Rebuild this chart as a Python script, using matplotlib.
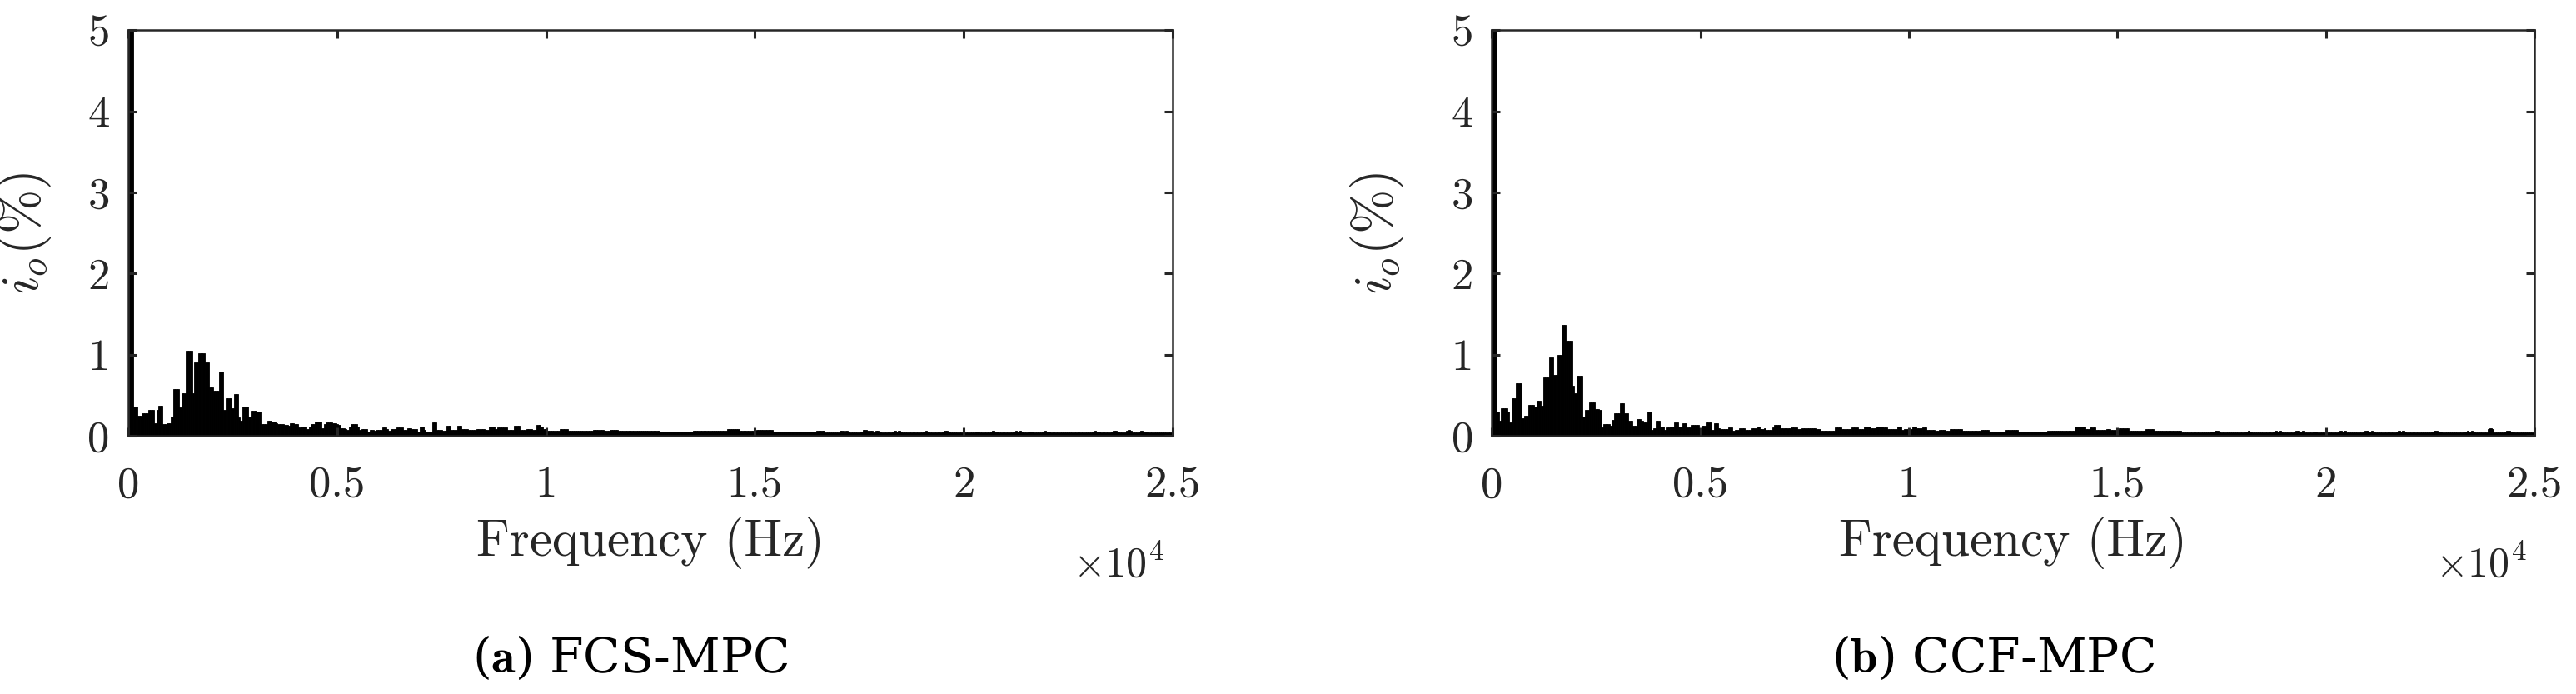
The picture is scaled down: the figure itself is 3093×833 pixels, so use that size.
import numpy as np
import matplotlib.pyplot as plt

plt.rcParams['mathtext.fontset'] = 'cm'
plt.rcParams['axes.unicode_minus'] = False

# harmonic spectrum, one value per 50 Hz bin (percent of fundamental)
bin_hz = 50

fcs_mpc = [
    100, 5.5, 0.36, 0.36, 0.25, 0.25, 0.28, 0.28, 0.28, 0.32,
    0.32, 0.32, 0.16, 0.32, 0.37, 0.37, 0.14, 0.14, 0.16, 0.16,
    0.24, 0.58, 0.58, 0.58, 0.35, 0.53, 0.53, 1.05, 1.05, 1.05,
    0.53, 0.90, 0.90, 1.02, 1.02, 1.02, 0.90, 0.90, 0.60, 0.60,
    0.56, 0.56, 0.56, 0.79, 0.79, 0.32, 0.46, 0.46, 0.46, 0.34,
    0.51, 0.51, 0.23, 0.19, 0.36, 0.36, 0.36, 0.24, 0.31, 0.31,
    0.31, 0.30, 0.30, 0.15, 0.15, 0.15, 0.19, 0.19, 0.18, 0.18,
    0.16, 0.14, 0.14, 0.14, 0.13, 0.13, 0.125, 0.156, 0.156, 0.146,
    0.146, 0.105, 0.115, 0.115, 0.115, 0.085, 0.115, 0.146, 0.146, 0.176,
    0.176, 0.176, 0.095, 0.146, 0.166, 0.166, 0.166, 0.156, 0.156, 0.14,
    0.135, 0.095, 0.095, 0.085, 0.075, 0.115, 0.146, 0.146, 0.146, 0.115,
    0.075, 0.085, 0.085, 0.085, 0.054, 0.075, 0.075, 0.064, 0.075, 0.075,
    0.075, 0.105, 0.105, 0.085, 0.064, 0.085, 0.085, 0.085, 0.105, 0.105,
    0.105, 0.075, 0.075, 0.095, 0.095, 0.085, 0.085, 0.085, 0.054, 0.115,
    0.115, 0.075, 0.054, 0.054, 0.054, 0.166, 0.166, 0.075, 0.075, 0.075,
    0.064, 0.064, 0.125, 0.125, 0.075, 0.075, 0.075, 0.125, 0.125, 0.085,
    0.085, 0.085, 0.075, 0.075, 0.075, 0.075, 0.085, 0.085, 0.085, 0.085,
    0.075, 0.075, 0.11, 0.11, 0.11, 0.085, 0.10, 0.10, 0.10, 0.10,
    0.10, 0.075, 0.075, 0.075, 0.12, 0.12, 0.12, 0.075, 0.075, 0.075,
    0.085, 0.085, 0.085, 0.075, 0.075, 0.13, 0.13, 0.11, 0.085, 0.085,
    0.064, 0.064, 0.064, 0.064, 0.064, 0.064, 0.085, 0.085, 0.085, 0.085,
    0.064, 0.064, 0.058, 0.064, 0.064, 0.058, 0.064, 0.064, 0.064, 0.058,
    0.064, 0.064, 0.075, 0.075, 0.075, 0.075, 0.075, 0.064, 0.064, 0.064,
    0.075, 0.075, 0.075, 0.075, 0.058, 0.058, 0.058, 0.058, 0.058, 0.058,
    0.058, 0.058, 0.058, 0.058, 0.058, 0.058, 0.064, 0.064, 0.064, 0.064,
    0.064, 0.064, 0.064, 0.064, 0.05, 0.05, 0.05, 0.05, 0.05, 0.05,
    0.05, 0.05, 0.05, 0.05, 0.05, 0.05, 0.05, 0.05, 0.05, 0.05,
    0.068, 0.068, 0.068, 0.068, 0.068, 0.068, 0.068, 0.068, 0.068, 0.068,
    0.068, 0.064, 0.064, 0.064, 0.064, 0.064, 0.085, 0.085, 0.085, 0.085,
    0.085, 0.085, 0.068, 0.068, 0.068, 0.068, 0.068, 0.068, 0.068, 0.068,
    0.075, 0.075, 0.075, 0.075, 0.075, 0.075, 0.075, 0.075, 0.055, 0.055,
    0.055, 0.055, 0.055, 0.055, 0.055, 0.055, 0.055, 0.055, 0.055, 0.055,
    0.055, 0.055, 0.055, 0.055, 0.055, 0.055, 0.055, 0.05, 0.05, 0.06,
    0.065, 0.065, 0.06, 0.045, 0.04, 0.04, 0.045, 0.04, 0.04, 0.045,
    0.06, 0.06, 0.055, 0.06, 0.05, 0.045, 0.04, 0.045, 0.04, 0.045,
    0.05, 0.07, 0.07, 0.065, 0.065, 0.06, 0.045, 0.06, 0.06, 0.055,
    0.045, 0.04, 0.045, 0.04, 0.045, 0.05, 0.06, 0.055, 0.06, 0.055,
    0.045, 0.04, 0.04, 0.045, 0.04, 0.04, 0.045, 0.04, 0.045, 0.04,
    0.055, 0.06, 0.05, 0.04, 0.04, 0.045, 0.04, 0.04, 0.045, 0.055,
    0.06, 0.06, 0.055, 0.045, 0.04, 0.04, 0.045, 0.04, 0.04, 0.045,
    0.04, 0.045, 0.04, 0.04, 0.045, 0.055, 0.05, 0.04, 0.045, 0.04,
    0.04, 0.045, 0.055, 0.06, 0.055, 0.05, 0.04, 0.045, 0.04, 0.04,
    0.045, 0.04, 0.045, 0.055, 0.06, 0.055, 0.06, 0.05, 0.04, 0.04,
    0.045, 0.055, 0.05, 0.045, 0.04, 0.04, 0.045, 0.055, 0.06, 0.055,
    0.055, 0.045, 0.04, 0.04, 0.045, 0.04, 0.04, 0.045, 0.04, 0.04,
    0.045, 0.04, 0.04, 0.045, 0.04, 0.04, 0.045, 0.04, 0.045, 0.04,
    0.045, 0.055, 0.06, 0.055, 0.055, 0.045, 0.04, 0.04, 0.045, 0.04,
    0.055, 0.06, 0.06, 0.05, 0.04, 0.045, 0.04, 0.065, 0.07, 0.06,
    0.045, 0.04, 0.045, 0.055, 0.06, 0.055, 0.055, 0.045, 0.04, 0.04,
    0.045, 0.04, 0.04, 0.045, 0.04, 0.04, 0.045, 0.04, 0.04, 0.045,
]

ccf_mpc = [
    100, 5.5, 0.30, 0.185, 0.337, 0.337, 0.337, 0.296, 0.168, 0.468,
    0.468, 0.65, 0.65, 0.65, 0.215, 0.246, 0.246, 0.377, 0.377, 0.377,
    0.357, 0.428, 0.428, 0.367, 0.72, 0.72, 0.72, 0.963, 0.963, 0.75,
    0.75, 0.993, 0.993, 1.367, 1.367, 1.175, 1.175, 1.175, 0.62, 0.529,
    0.74, 0.74, 0.74, 0.236, 0.316, 0.316, 0.407, 0.407, 0.407, 0.327,
    0.327, 0.316, 0.104, 0.145, 0.145, 0.145, 0.125, 0.195, 0.276, 0.276,
    0.276, 0.397, 0.397, 0.276, 0.276, 0.185, 0.185, 0.125, 0.125, 0.205,
    0.205, 0.185, 0.165, 0.165, 0.296, 0.296, 0.074, 0.094, 0.185, 0.185,
    0.114, 0.114, 0.074, 0.104, 0.104, 0.114, 0.114, 0.165, 0.165, 0.114,
    0.114, 0.155, 0.155, 0.104, 0.104, 0.13, 0.135, 0.135, 0.135, 0.094,
    0.125, 0.125, 0.165, 0.165, 0.165, 0.074, 0.155, 0.155, 0.094, 0.084,
    0.084, 0.084, 0.084, 0.104, 0.104, 0.064, 0.074, 0.074, 0.094, 0.094,
    0.094, 0.074, 0.074, 0.074, 0.094, 0.094, 0.094, 0.114, 0.084, 0.084,
    0.094, 0.074, 0.074, 0.074, 0.104, 0.135, 0.135, 0.135, 0.094, 0.094,
    0.094, 0.094, 0.094, 0.104, 0.104, 0.104, 0.084, 0.084, 0.094, 0.09,
    0.09, 0.09, 0.09, 0.09, 0.09, 0.085, 0.085, 0.064, 0.064, 0.064,
    0.064, 0.064, 0.064, 0.064, 0.108, 0.108, 0.108, 0.085, 0.085, 0.085,
    0.085, 0.085, 0.108, 0.108, 0.108, 0.085, 0.085, 0.085, 0.118, 0.118,
    0.118, 0.09, 0.09, 0.09, 0.118, 0.118, 0.118, 0.108, 0.108, 0.085,
    0.085, 0.085, 0.085, 0.085, 0.118, 0.118, 0.074, 0.085, 0.085, 0.085,
    0.085, 0.118, 0.118, 0.09, 0.09, 0.09, 0.108, 0.108, 0.074, 0.074,
    0.074, 0.074, 0.064, 0.064, 0.074, 0.074, 0.074, 0.064, 0.064, 0.085,
    0.085, 0.085, 0.085, 0.085, 0.085, 0.064, 0.064, 0.064, 0.064, 0.064,
    0.064, 0.064, 0.064, 0.064, 0.074, 0.074, 0.074, 0.074, 0.057, 0.057,
    0.057, 0.057, 0.057, 0.057, 0.057, 0.057, 0.074, 0.074, 0.074, 0.074,
    0.074, 0.074, 0.057, 0.057, 0.057, 0.057, 0.057, 0.057, 0.057, 0.057,
    0.057, 0.057, 0.057, 0.057, 0.057, 0.057, 0.064, 0.064, 0.064, 0.064,
    0.064, 0.064, 0.064, 0.064, 0.064, 0.064, 0.064, 0.064, 0.064, 0.118,
    0.118, 0.118, 0.118, 0.118, 0.085, 0.085, 0.108, 0.108, 0.108, 0.074,
    0.074, 0.074, 0.074, 0.074, 0.085, 0.085, 0.074, 0.074, 0.074, 0.074,
    0.09, 0.09, 0.09, 0.09, 0.09, 0.064, 0.064, 0.064, 0.064, 0.064,
    0.064, 0.064, 0.064, 0.085, 0.085, 0.085, 0.085, 0.064, 0.064, 0.064,
    0.064, 0.064, 0.064, 0.064, 0.064, 0.064, 0.064, 0.064, 0.064, 0.064,
    0.045, 0.04, 0.04, 0.045, 0.04, 0.045, 0.04, 0.04, 0.045, 0.04,
    0.04, 0.045, 0.04, 0.045, 0.05, 0.055, 0.06, 0.06, 0.055, 0.045,
    0.04, 0.04, 0.045, 0.04, 0.04, 0.045, 0.04, 0.045, 0.04, 0.04,
    0.045, 0.055, 0.06, 0.055, 0.045, 0.04, 0.04, 0.045, 0.04, 0.04,
    0.045, 0.04, 0.04, 0.045, 0.05, 0.06, 0.055, 0.06, 0.055, 0.045,
    0.04, 0.045, 0.04, 0.045, 0.05, 0.06, 0.06, 0.055, 0.06, 0.045,
    0.04, 0.045, 0.04, 0.055, 0.055, 0.045, 0.04, 0.04, 0.045, 0.04,
    0.04, 0.045, 0.04, 0.045, 0.045, 0.055, 0.06, 0.055, 0.06, 0.045,
    0.04, 0.04, 0.045, 0.04, 0.04, 0.045, 0.04, 0.055, 0.06, 0.06,
    0.055, 0.06, 0.05, 0.04, 0.045, 0.04, 0.04, 0.045, 0.04, 0.04,
    0.045, 0.04, 0.04, 0.055, 0.06, 0.055, 0.06, 0.05, 0.04, 0.045,
    0.04, 0.04, 0.045, 0.04, 0.04, 0.045, 0.04, 0.04, 0.045, 0.04,
    0.055, 0.06, 0.06, 0.055, 0.05, 0.04, 0.045, 0.04, 0.04, 0.045,
    0.04, 0.04, 0.045, 0.04, 0.045, 0.04, 0.055, 0.06, 0.055, 0.06,
    0.05, 0.04, 0.045, 0.04, 0.04, 0.045, 0.04, 0.085, 0.09, 0.08,
    0.045, 0.04, 0.045, 0.04, 0.045, 0.055, 0.06, 0.06, 0.055, 0.04,
    0.045, 0.04, 0.04, 0.045, 0.04, 0.04, 0.045, 0.04, 0.045, 0.04,
]

freq = bin_hz * np.arange(1, len(fcs_mpc) + 1)

xticks = [0, 5000, 10000, 15000, 20000, 25000]
xticklabels = ['0', '0.5', '1', '1.5', '2', '2.5']
yticks = [0, 1, 2, 3, 4, 5]
panels = [('a', 'FCS-MPC', fcs_mpc), ('b', 'CCF-MPC', ccf_mpc)]

axcol = '#262626'
fig = plt.figure(figsize=(30.93, 8.33), dpi=100)
ax1 = fig.add_axes([0.0498, 0.372, 0.4054, 0.5846])
ax2 = fig.add_axes([0.5791, 0.372, 0.4048, 0.5846])

for ax, (tag, name, amp), ylx in zip([ax1, ax2], panels, [-0.072, -0.082]):
    ax.bar(freq, amp, width=bin_hz, color='black', edgecolor='black', linewidth=0.6)
    ax.set_xlim(0, 25000)
    ax.set_ylim(0, 5)
    ax.set_xticks(xticks)
    ax.set_xticklabels(xticklabels, family='cmr10', fontsize=38)
    ax.set_yticks(yticks)
    ax.set_yticklabels([str(v) for v in yticks], family='cmr10', fontsize=38)
    ax.tick_params(direction='in', top=True, right=True, length=7, width=2.2,
                   color=axcol, labelcolor=axcol)
    ax.tick_params(axis='x', pad=26)
    ax.tick_params(axis='y', pad=16)
    for s in ax.spines.values():
        s.set_linewidth(1.8)
        s.set_color(axcol)
    ax.set_xlabel('Frequency (Hz)', family='cmr10', fontsize=44, color=axcol)
    ax.xaxis.label.set_va('center')
    ax.xaxis.set_label_coords(0.5, -0.263)
    ax.set_ylabel(r'$i_o(\%)$', fontsize=46, color=axcol)
    ax.yaxis.set_label_coords(ylx, 0.5)
    ax.text(0.992, -0.318, r'$\times10^4$', transform=ax.transAxes, ha='right',
            va='center', fontsize=36, color=axcol)
    ax.text(0.481, -0.548, r'($\mathbf{' + tag + r'}$) ' + name, transform=ax.transAxes,
            ha='center', va='center', family='DejaVu Serif', fontsize=42)

fig.savefig('out.png', dpi=100)
